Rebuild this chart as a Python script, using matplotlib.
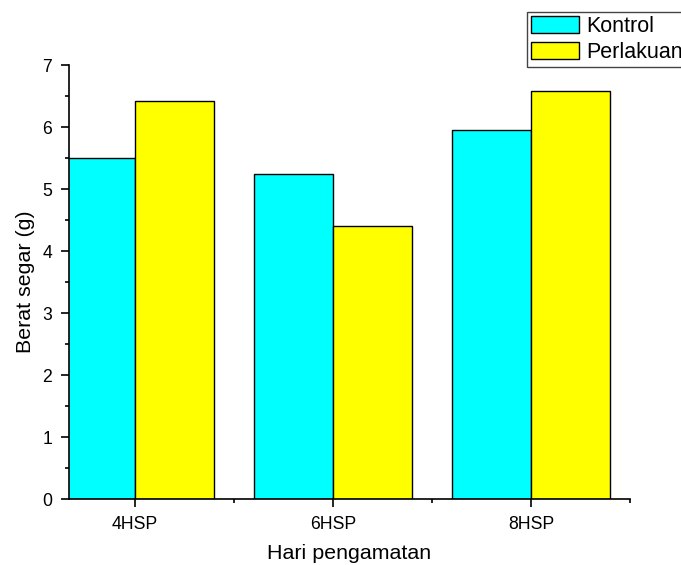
import matplotlib.pyplot as plt
import numpy as np
from matplotlib.ticker import MultipleLocator

# データ
categories = ['4HSP', '6HSP', '8HSP']
kontrol = [5.50, 5.24, 5.95]
perlakuan = [6.42, 4.40, 6.58]

plt.rcParams['font.family'] = ['Liberation Sans', 'DejaVu Sans']

fig = plt.figure(figsize=(6.81, 5.65), dpi=100)
ax = fig.add_axes([69/681, 1-499/565, (630-69)/681, (499-65)/565])

x = np.arange(1, len(categories) + 1)
w = 0.4
ax.bar(x - w, kontrol, width=w, align='edge', color='#00FFFF', edgecolor='black', linewidth=1, label='Kontrol')
ax.bar(x, perlakuan, width=w, align='edge', color='#FFFF00', edgecolor='black', linewidth=1, label='Perlakuan')

ax.set_xlim(2/3, 3.5)
ax.set_ylim(0, 7)
ax.set_xticks(x)
ax.set_xticklabels(categories)
ax.set_xticks([1.5, 2.5, 3.5], minor=True)
ax.yaxis.set_major_locator(MultipleLocator(1))
ax.yaxis.set_minor_locator(MultipleLocator(0.5))

for s in ['top', 'right']:
    ax.spines[s].set_visible(False)
for s in ['left', 'bottom']:
    ax.spines[s].set_linewidth(1.2)

ax.tick_params(which='major', direction='out', length=6, width=1.2, labelsize=12.7, pad=6)
ax.tick_params(which='minor', direction='out', length=3, width=1.2)

ax.set_xlabel('Hari pengamatan', fontsize=15.4, labelpad=8)
ax.set_ylabel('Berat segar (g)', fontsize=15.4, labelpad=5)

leg = fig.legend(loc='upper left', bbox_to_anchor=(527/681, 1-12/565), fontsize=15.5,
                 frameon=True, fancybox=False, edgecolor='#444444', framealpha=1,
                 handlelength=2.2, handleheight=0.82, handletextpad=0.33,
                 borderpad=0.2, labelspacing=0.22, borderaxespad=0)
leg.get_frame().set_linewidth(1)

fig.savefig('out.png', dpi=100)
